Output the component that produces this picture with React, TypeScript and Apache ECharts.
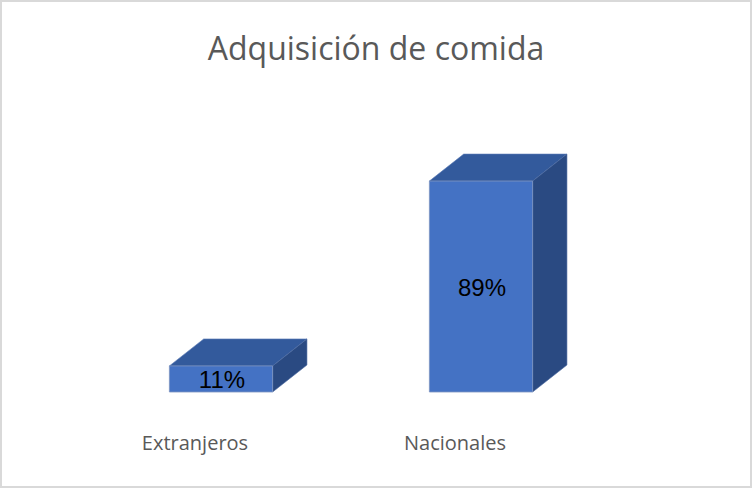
import React, { useEffect, useRef } from "react";
import * as echarts from "echarts";

const categories = ["Extranjeros", "Nacionales"];
const values = [11, 89];
const labels = ["11%", "89%"];
const titleText = "Adquisición de comida";

export default function App() {
  const ref = useRef<HTMLDivElement>(null);
  useEffect(() => {
    document.body.style.margin = "0";
    const chart = echarts.init(ref.current!, null, { renderer: "svg" });
    const data = values.map((v, i) => [i, v, labels[i]]);
    chart.setOption({
      animation: false,
      backgroundColor: "#ffffff",
      title: {
        text: titleText,
        left: "center",
        top: 21,
        textStyle: {
          fontFamily: "Open Sans",
          fontSize: 32,
          fontWeight: "normal",
          color: "#595959",
          lineHeight: 42,
        },
      },
      graphic: [
        {
          type: "rect",
          shape: { x: 1, y: 1, width: 750, height: 486 },
          style: { fill: "none", stroke: "#d9d9d9", lineWidth: 2 },
          silent: true,
        },
      ],
      grid: { left: 65, right: 167, top: 155, bottom: 96 },
      xAxis: {
        type: "category",
        data: categories,
        axisLine: { show: false },
        axisTick: { show: false },
        axisLabel: {
          fontFamily: "Open Sans",
          fontSize: 20,
          color: "#595959",
          margin: 39,
          lineHeight: 22,
        },
      },
      yAxis: {
        type: "value",
        min: 0,
        max: 100,
        show: false,
        splitLine: { show: false },
      },
      series: [
        {
          type: "custom",
          data,
          renderItem: (params: any, api: any) => {
            const idx = api.value(0);
            const v = api.value(1);
            const base = api.coord([idx, 0]);
            const top = api.coord([idx, v]);
            const band = api.size([1, 0])[0];
            const cx = base[0] + band * 0.1;
            const w = band * 0.397;
            const dx = band * 0.132;
            const dy = 27;
            const x0 = cx - w / 2;
            const x1 = cx + w / 2;
            const yb = base[1];
            const yt = top[1];
            return {
              type: "group",
              children: [
                {
                  type: "polygon",
                  shape: { points: [[x0, yt], [x0 + dx, yt - dy], [x1 + dx, yt - dy], [x1, yt]] },
                  style: { fill: "#335A9C", stroke: "#5a7bb5", lineWidth: 0.6 },
                },
                {
                  type: "polygon",
                  shape: { points: [[x1, yt], [x1 + dx, yt - dy], [x1 + dx, yb - dy], [x1, yb]] },
                  style: { fill: "#2A4A82", stroke: "#4a68a0", lineWidth: 0.6 },
                },
                {
                  type: "rect",
                  shape: { x: x0, y: yt, width: w, height: yb - yt },
                  style: { fill: "#4472C4", stroke: "#7d94c0", lineWidth: 0.8 },
                },
                {
                  type: "text",
                  style: {
                    text: api.value(2),
                    x: cx + 1,
                    y: (yt + yb) / 2 + 1,
                    align: "center",
                    verticalAlign: "middle",
                    fontFamily: "Liberation Sans",
                    fontSize: 24,
                    fill: "#000000",
                  },
                },
              ],
            };
          },
        },
      ],
    });
    return () => chart.dispose();
  }, []);
  return <div ref={ref} style={{ width: 752, height: 488 }} />;
}
